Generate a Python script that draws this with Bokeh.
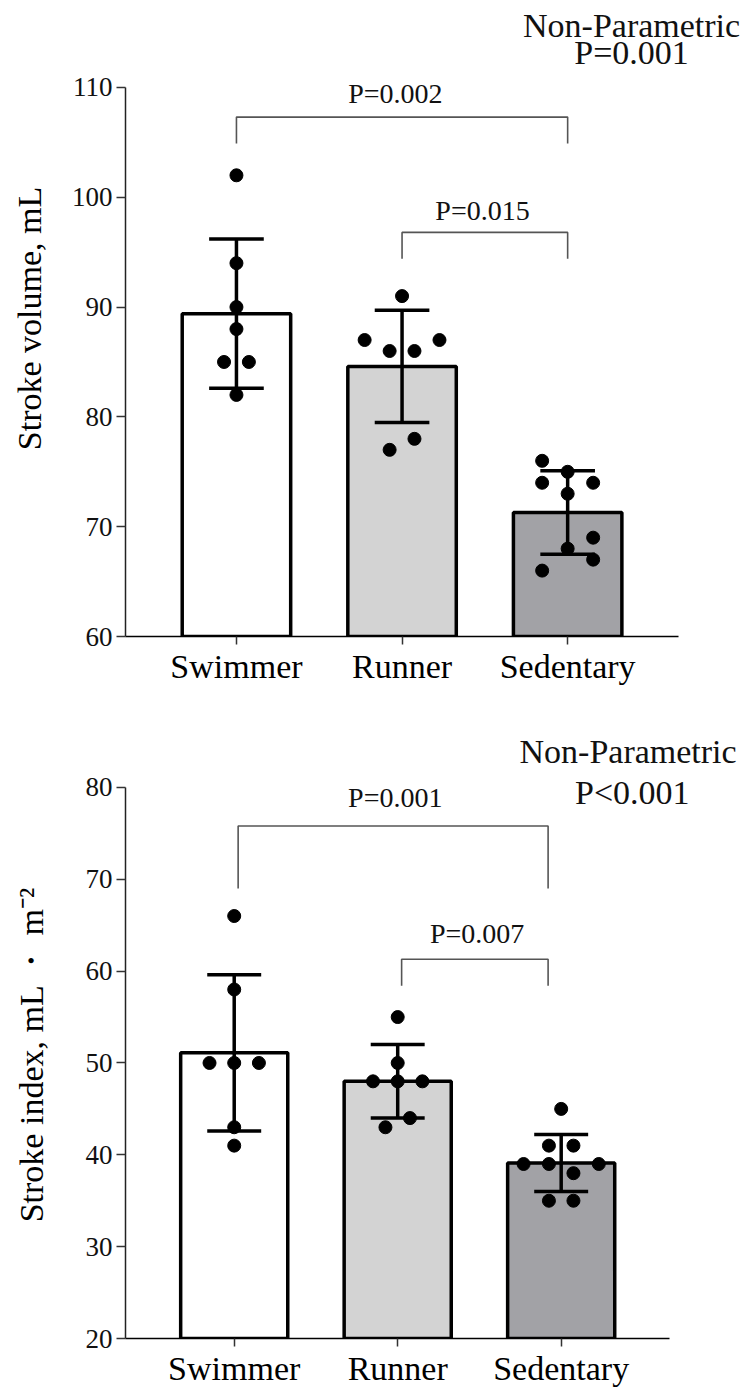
from bokeh.plotting import figure
from bokeh.layouts import column
from bokeh.models import Range1d, FixedTicker, Title
from bokeh.core.properties import value
from bokeh.embed import file_html
from bokeh.resources import INLINE

# ---------------- data ----------------
groups = ["Swimmer", "Runner", "Sedentary"]

sv_swimmer = [102, 94, 90, 88, 85, 85, 82]
sv_runner = [91, 87, 87, 86, 86, 78, 77]
sv_sedentary = [76, 75, 74, 74, 73, 69, 68, 67, 66]
sv_mean = [89.4, 84.6, 71.3]
sv_sd = [6.8, 5.1, 3.8]
sv_pairs_p = ["P=0.002", "P=0.015"]
sv_overall = ["Non-Parametric", "P=0.001"]
sv_ticks = [60, 70, 80, 90, 100, 110]

si_swimmer = [66, 58, 50, 50, 50, 43, 41]
si_runner = [55, 50, 48, 48, 48, 44, 43]
si_sedentary = [45, 41, 41, 39, 39, 39, 38, 35, 35]
si_mean = [51.1, 48.0, 39.1]
si_sd = [8.5, 4.0, 3.1]
si_pairs_p = ["P=0.001", "P=0.007"]
si_overall = ["Non-Parametric", "P<0.001"]
si_ticks = [20, 30, 40, 50, 60, 70, 80]

# ---------------- layout (not data) ----------------
sv_jitter = [
    [0, 0, 0, 0, -0.075, 0.075, 0],
    [0, -0.226, 0.226, -0.075, 0.075, 0.075, -0.075],
    [-0.154, 0, -0.154, 0.154, 0, 0.154, 0, 0.154, -0.154],
]
si_jitter = [
    [0, 0, -0.151, 0, 0.151, 0, 0],
    [0, 0, -0.151, 0, 0.151, 0.075, -0.075],
    [0, -0.075, 0.075, -0.23, -0.075, 0.23, 0.075, -0.075, 0.075],
]

FONT = "Liberation Serif"
fills = ["#ffffff", "#d3d3d3", "#a2a2a6"]


def panel(points, jitter, means, sds, pair_p, ticks, ylabel, label_standoff,
          height, bl, bb, bt, x0, y_lo, y_top, brackets, ptext,
          otexts, opos, title_text=None, title_offset=0):
    frame_w = 743 - bl
    p = figure(width=743, height=height, output_backend="svg", toolbar_location=None,
               x_range=Range1d(x0, x0 + frame_w / 165.6), y_range=Range1d(y_lo, y_top),
               min_border_left=bl, min_border_right=0, min_border_top=bt,
               min_border_bottom=bb)
    p.outline_line_color = None
    p.grid.visible = False
    p.background_fill_color = "white"
    p.border_fill_color = "white"

    # bars
    p.vbar(x=[0, 1, 2], top=means, bottom=y_lo, width=0.655, fill_color=fills,
           line_color="black", line_width=3.5)
    # error bars
    up = [m + s for m, s in zip(means, sds)]
    lo = [m - s for m, s in zip(means, sds)]
    p.segment(x0=[0, 1, 2], y0=lo, x1=[0, 1, 2], y1=up, line_color="black", line_width=3.5)
    p.segment(x0=[i - 0.165 for i in range(3)], y0=up, x1=[i + 0.165 for i in range(3)], y1=up,
              line_color="black", line_width=3.5)
    p.segment(x0=[i - 0.165 for i in range(3)], y0=lo, x1=[i + 0.165 for i in range(3)], y1=lo,
              line_color="black", line_width=3.5)
    # dots
    for gi, (vals, jit) in enumerate(zip(points, jitter)):
        p.scatter(x=[gi + j for j in jit], y=vals, size=13, fill_color="black",
                  line_color="black")
    # brackets
    for (xa, xb, yh, yl) in brackets:
        p.line(x=[xa, xa, xb, xb], y=[yl, yh, yh, yl], line_color="#555555", line_width=1.6)
    p.text(x=[t[0] for t in ptext], y=[t[1] for t in ptext], text=pair_p,
           text_font=value(FONT), text_font_size="28px", text_align="center",
           text_baseline="middle", text_color="#111111")
    p.text(x=[t[0] for t in opos], y=[t[1] for t in opos], text=otexts,
           text_font=value(FONT), text_font_size="34px", text_align="center",
           text_baseline="middle", text_color="#111111")
    if title_text is not None:
        t = Title(text=title_text, align="left", text_font=FONT, text_font_size="34px",
                  text_font_style="normal", text_color="#111111", standoff=2,
                  offset=title_offset)
        p.add_layout(t, "above")

    # axes
    xa = p.xaxis[0]
    xa.bounds = (x0, -x0 + 2)
    xa.ticker = FixedTicker(ticks=[0, 1, 2])
    xa.major_label_overrides = {0: groups[0], 1: groups[1], 2: groups[2]}
    xa.major_label_text_font = FONT
    xa.major_label_text_font_size = "34px"
    xa.major_label_text_color = "black"
    xa.major_label_standoff = 3
    xa.major_tick_out = 8
    xa.major_tick_in = 0
    xa.minor_tick_line_color = None
    xa.axis_line_color = "black"
    xa.axis_line_width = 1.5
    xa.major_tick_line_color = "#333333"
    xa.major_tick_line_width = 1.5

    ya = p.yaxis[0]
    ya.bounds = (ticks[0], ticks[-1])
    ya.ticker = FixedTicker(ticks=ticks)
    ya.major_label_text_font = FONT
    ya.major_label_text_font_size = "27px"
    ya.major_label_text_color = "#111111"
    ya.major_label_standoff = 4
    ya.major_tick_out = 9
    ya.major_tick_in = 0
    ya.minor_tick_line_color = None
    ya.axis_line_color = "#222222"
    ya.axis_line_width = 1.5
    ya.major_tick_line_color = "#333333"
    ya.major_tick_line_width = 1.5
    ya.axis_label = ylabel
    ya.axis_label_text_font = FONT
    ya.axis_label_text_font_size = "34px"
    ya.axis_label_text_font_style = "normal"
    ya.axis_label_text_color = "black"
    ya.axis_label_standoff = label_standoff
    return p


top = panel([sv_swimmer, sv_runner, sv_sedentary], sv_jitter, sv_mean, sv_sd,
            sv_pairs_p, sv_ticks, "Stroke volume, mL", 21,
            height=705, bl=125, bb=69, bt=0, x0=-0.67, y_lo=60, y_top=117.92,
            brackets=[(0, 2, 107.3, 104.9), (1, 2, 96.8, 94.4)],
            ptext=[(0.96, 109.45), (1.486, 98.8)],
            otexts=sv_overall, opos=[(2.386, 115.64), (2.386, 113.2)])

# bottom: frame starts 65 px below the figure top; the first title line sits above it
bottom = panel([si_swimmer, si_runner, si_sedentary], si_jitter, si_mean, si_sd,
               si_pairs_p, si_ticks, "Stroke index, mL \u30fb m\u207b\u00b2", 33,
               height=684, bl=117, bb=49, bt=65, x0=-0.665, y_lo=20, y_top=81.845,
               brackets=[(0.024, 1.92, 75.8, 69.0), (1.024, 1.92, 61.3, 58.4)],
               ptext=[(0.985, 78.9), (1.486, 64.1)],
               otexts=[si_overall[1]], opos=[(2.435, 79.45)],
               title_text=si_overall[0], title_offset=394)

layout = column(top, bottom, spacing=0)
open("out.html", "w").write(file_html(layout, INLINE))
